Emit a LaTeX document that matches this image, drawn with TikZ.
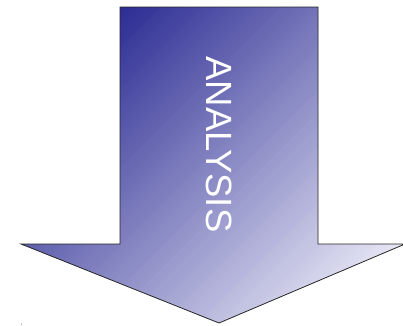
\documentclass[tikz,border=0pt]{standalone}
\usepackage{fontspec}
\setmainfont{Liberation Sans}
\usepackage{tikz}
\usetikzlibrary{positioning,calc}

\definecolor{arrowdark}{RGB}{45,45,148}
\definecolor{arrowlight}{RGB}{232,232,246}

\begin{document}
\begin{tikzpicture}[x=1pt, y=-1pt]
    \useasboundingbox (0, 0) rectangle (403, 325);

    % Block arrow pointing down, diagonal gradient in thin bands
    \begin{scope}
        \clip (120, 7) -- (318, 7) -- (318, 244) -- (405, 244) -- (219, 323)
            -- (21, 244) -- (120, 244) -- cycle;
        \foreach \s in {124,127,...,652} {
            \pgfmathtruncatemacro{\p}{min(100,max(0,(\s-127)/521*100))}
            \fill[arrowlight!\p!arrowdark] (\s, 0) -- (\s+4, 0) -- (0, \s+4) -- (0, \s) -- cycle;
        }
    \end{scope}
    \draw[black!85, line width=0.8pt, line join=miter]
        (120, 7) -- (318, 7) -- (318, 244) -- (405, 244) -- (219, 323)
        -- (21, 244) -- (120, 244) -- cycle;

    % Label
    \node[white, rotate=-90, font=\fontsize{36.5}{40}\selectfont] (analysis) at (219.5, 144.5) {ANALYSIS};

    % Stray dot
    \fill[black!60] (21.5, 324) circle (0.5);
\end{tikzpicture}
\end{document}
